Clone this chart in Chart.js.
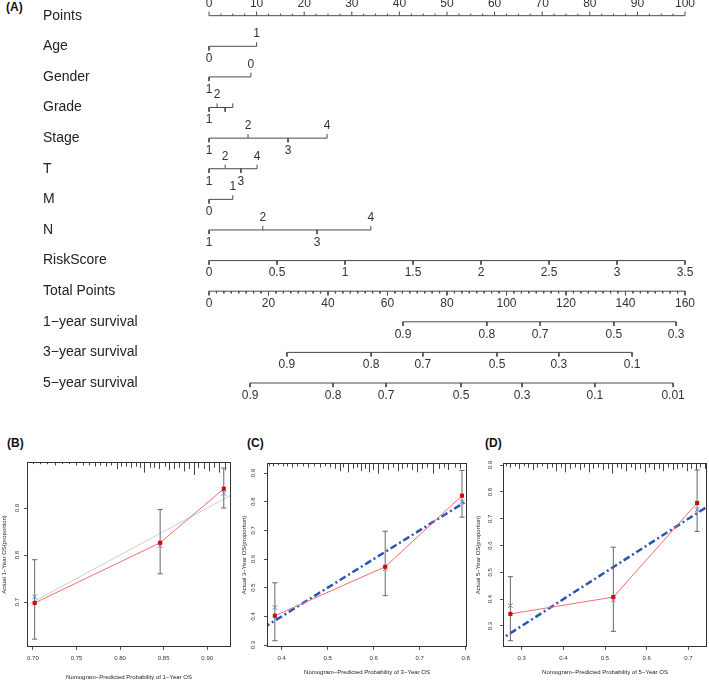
<!DOCTYPE html>
<html>
<head>
<meta charset="utf-8">
<script src="https://cdn.jsdelivr.net/npm/chart.js@4.4.0/dist/chart.umd.min.js"></script>
<style>
html,body{margin:0;padding:0;background:#fff;}
body{width:709px;height:682px;position:relative;overflow:hidden;font-family:"Liberation Sans",Arial,Helvetica,sans-serif;}
.wrap{position:absolute;}
.wrap canvas{display:block;}
.panel{position:absolute;font-weight:bold;font-size:12px;line-height:12px;color:#111;}
</style>
</head>
<body>
<div class="panel" style="left:6px;top:1px">(A)</div>
<div class="panel" style="left:7px;top:437px">(B)</div>
<div class="panel" style="left:247px;top:437px">(C)</div>
<div class="panel" style="left:485px;top:437px">(D)</div>

<div class="wrap" style="left:0;top:0"><canvas id="nomo" width="709" height="410"></canvas></div>
<div class="wrap" style="left:0;top:430px"><canvas id="calB" width="236" height="252"></canvas></div>
<div class="wrap" style="left:236px;top:430px"><canvas id="calC" width="236" height="252"></canvas></div>
<div class="wrap" style="left:472px;top:430px"><canvas id="calD" width="240" height="252"></canvas></div>

<script>
// ================= DATA =================
// --- Nomogram (A) ---
const rowNames = ['Points','Age','Gender','Grade','Stage','T','M','N','RiskScore','Total Points',
                  '1\u2212year survival','3\u2212year survival','5\u2212year survival'];
const pointsTicks = [0,10,20,30,40,50,60,70,80,90,100];
const ageLevels = ['0','1'];            const agePoints = [0, 10];
const genderLevels = ['1','0'];         const genderPoints = [0, 8.8];
const gradeLevels = ['1','2','',''];    const gradePoints = [0, 1.7, 3.4, 5.0];
const stageLevels = ['1','2','3','4'];  const stagePoints = [0, 8.2, 16.6, 24.8];
const tLevels = ['1','2','3','4'];      const tPoints = [0, 3.4, 6.7, 10.1];
const mLevels = ['0','1'];              const mPoints = [0, 5.0];
const nLevels = ['1','2','3','4'];      const nPoints = [0, 11.3, 22.7, 34.0];
const riskScoreTicks = [0,0.5,1,1.5,2,2.5,3,3.5];
const riskScoreLabels = ['0','0.5','1','1.5','2','2.5','3','3.5'];
const riskScoreMax = 3.5;               // = 100 points
const totalPointsTicks = [0,20,40,60,80,100,120,140,160];
const totalPointsMax = 160;             // = 100 points
const surv1Labels = ['0.9','0.8','0.7','0.5','0.3'];
const surv1Total  = [65.2, 93.4, 111.3, 136.1, 157.0];
const surv3Labels = ['0.9','0.8','0.7','0.5','0.3','0.1'];
const surv3Total  = [26.2, 54.5, 71.9, 96.8, 117.6, 142.2];
const surv5Labels = ['0.9','0.8','0.7','0.5','0.3','0.1','0.01'];
const surv5Total  = [13.8, 41.7, 59.5, 84.7, 105.2, 129.7, 156.0];

// --- Calibration (B) 1-year ---
const predB = [0.702, 0.846, 0.919];
const obsB  = [0.698, 0.826, 0.941];
const loB   = [0.621, 0.760, 0.900];
const hiB   = [0.790, 0.897, 0.985];
const corB  = [0.711, 0.820, 0.931];
const xTicksB = [0.70,0.75,0.80,0.85,0.90]; const xTickLabelsB = ['0.70','0.75','0.80','0.85','0.90'];
const yTicksB = [0.7,0.8,0.9];               const yTickLabelsB = ['0.7','0.8','0.9'];
const rugXB = [0.700,0.708,0.716,0.725,0.733,0.741,0.749,0.757,0.764,0.771,0.777,0.784,0.790,0.796,0.801,0.807,0.812,0.818,0.823,0.828,0.834,0.839,0.845,0.851,0.856,0.862,0.868,0.873,0.879,0.885,0.890,0.896,0.902,0.908,0.914,0.920];
const rugNB = [1,1,1,2,1,1,2,2,2,3,2,3,2,5,3,3,4,3,4,8,4,4,5,3,6,5,4,7,5,10,4,5,7,4,8,6];

// --- Calibration (C) 3-year ---
const predC = [0.385, 0.625, 0.792];
const obsC  = [0.402, 0.573, 0.821];
const loC   = [0.315, 0.472, 0.746];
const hiC   = [0.517, 0.697, 0.909];
const corC  = [0.431, 0.566, 0.800];
const xTicksC = [0.4,0.5,0.6,0.7,0.8];       const xTickLabelsC = ['0.4','0.5','0.6','0.7','0.8'];
const yTicksC = [0.3,0.4,0.5,0.6,0.7,0.8,0.9]; const yTickLabelsC = ['0.3','0.4','0.5','0.6','0.7','0.8','0.9'];
const rugXC = [0.372,0.381,0.391,0.402,0.412,0.423,0.434,0.446,0.458,0.471,0.483,0.494,0.505,0.515,0.526,0.533,0.543,0.554,0.564,0.572,0.581,0.590,0.599,0.609,0.620,0.630,0.641,0.652,0.662,0.673,0.684,0.694,0.705,0.716,0.730,0.741,0.752,0.762,0.776,0.787];
const rugNC = [2,2,1,2,2,3,2,2,3,2,3,2,3,4,6,3,7,4,3,6,4,7,5,8,4,5,3,6,4,3,5,7,4,3,8,4,3,5,3,4];

// --- Calibration (D) 5-year ---
const predD = [0.273, 0.520, 0.721];
const obsD  = [0.345, 0.408, 0.759];
const loD   = [0.245, 0.280, 0.653];
const hiD   = [0.484, 0.594, 0.882];
const corD  = [0.376, 0.397, 0.734];
const xTicksD = [0.3,0.4,0.5,0.6,0.7];       const xTickLabelsD = ['0.3','0.4','0.5','0.6','0.7'];
const yTicksD = [0.3,0.4,0.5,0.6,0.7,0.8,0.9]; const yTickLabelsD = ['0.3','0.4','0.5','0.6','0.7','0.8','0.9'];
const rugXD = [0.262,0.272,0.283,0.294,0.305,0.316,0.327,0.338,0.350,0.361,0.372,0.383,0.394,0.405,0.417,0.428,0.439,0.450,0.461,0.472,0.484,0.495,0.506,0.517,0.528,0.539,0.551,0.562,0.573,0.584,0.595,0.606,0.618,0.629,0.640,0.651,0.662,0.673,0.685,0.696,0.707,0.718,0.729,0.740];
const rugND = [2,3,2,4,2,3,5,3,2,4,3,6,3,7,4,3,5,3,7,4,3,5,4,8,3,4,6,3,5,4,7,3,5,4,6,3,5,4,3,6,4,5,3,4];

// ================= RENDERING =================
const FONT = '"Liberation Sans", Arial, Helvetica, sans-serif';
Chart.defaults.font.family = FONT;

const UP = 1, DN = -1;
const all = (arr, s) => arr.map(() => s);
function minorTicks(step, max, majorEvery) {
  const out = [];
  for (let v = step; v < max; v += step) { if (Math.abs(v / majorEvery - Math.round(v / majorEvery)) > 1e-6) out.push(v); }
  return out;
}
const rows = [
  {pts: pointsTicks, labels: pointsTicks.map(String), side: all(pointsTicks, UP), minor: minorTicks(2.5, 100, 10), minorSide: UP},
  {pts: agePoints, labels: ageLevels, side: [DN, UP]},
  {pts: genderPoints, labels: genderLevels, side: [DN, UP]},
  {pts: gradePoints, labels: gradeLevels, side: [DN, UP, DN, UP]},
  {pts: stagePoints, labels: stageLevels, side: [DN, UP, DN, UP]},
  {pts: tPoints, labels: tLevels, side: [DN, UP, DN, UP]},
  {pts: mPoints, labels: mLevels, side: [DN, UP]},
  {pts: nPoints, labels: nLevels, side: [DN, UP, DN, UP]},
  {pts: riskScoreTicks.map(v => v / riskScoreMax * 100), labels: riskScoreLabels, side: all(riskScoreTicks, DN)},
  {pts: totalPointsTicks.map(v => v / totalPointsMax * 100), labels: totalPointsTicks.map(String), side: all(totalPointsTicks, DN),
   minor: minorTicks(2.5, totalPointsMax, 20).map(v => v / totalPointsMax * 100), minorSide: DN},
  {pts: surv1Total.map(v => v / totalPointsMax * 100), labels: surv1Labels, side: all(surv1Labels, DN)},
  {pts: surv3Total.map(v => v / totalPointsMax * 100), labels: surv3Labels, side: all(surv3Labels, DN)},
  {pts: surv5Total.map(v => v / totalPointsMax * 100), labels: surv5Labels, side: all(surv5Labels, DN)}
];
const TICK = 0.135, MINOR = 0.07, LABEL_OFF = 12.5;
const GAP = {x: null, y: null};
function rowData(row, i) {
  const d = [{x: Math.min(...row.pts), y: i}, {x: Math.max(...row.pts), y: i}, GAP];
  row.pts.forEach((p, k) => d.push({x: p, y: i}, {x: p, y: i - row.side[k] * TICK}, GAP));
  (row.minor || []).forEach(p => d.push({x: p, y: i}, {x: p, y: i - row.minorSide * MINOR}, GAP));
  return d;
}
const nomoLabels = {
  id: 'nomoLabels',
  afterDatasetsDraw(chart) {
    const {ctx, scales: {x, y}} = chart;
    ctx.save();
    ctx.font = '12px ' + FONT; ctx.fillStyle = '#333';
    ctx.textAlign = 'center'; ctx.textBaseline = 'middle';
    rows.forEach((row, i) => row.pts.forEach((p, k) => {
      const t = row.labels[k]; if (!t) return;
      ctx.fillText(t, x.getPixelForValue(p), y.getPixelForValue(i) - row.side[k] * LABEL_OFF);
    }));
    ctx.restore();
  }
};
new Chart(document.getElementById('nomo'), {
  type: 'scatter',
  data: {datasets: rows.map((row, i) => ({type: 'line', data: rowData(row, i), borderColor: '#4a4a4a', borderWidth: 1,
    pointRadius: 0, spanGaps: false, tension: 0}))},
  options: {
    responsive: false, animation: false, events: [],
    layout: {padding: {left: 43, top: 0, right: 0, bottom: 0}},
    plugins: {legend: {display: false}, tooltip: {enabled: false}},
    scales: {
      x: {type: 'linear', display: false, min: -1.891, max: 105.04},
      y: {type: 'linear', reverse: true, min: -0.513, max: 12.882, position: 'left',
        afterBuildTicks: s => { s.ticks = rowNames.map((_, i) => ({value: i})); },
        afterFit: s => { s.width = 157; s.paddingTop = 0; s.paddingBottom = 0; },
        ticks: {autoSkip: false, crossAlign: 'far', padding: 0, font: {size: 14}, color: '#222',
          callback: v => rowNames[v]},
        grid: {display: false}, border: {display: false}}
    }
  },
  plugins: [nomoLabels]
});

// --- calibration panels ---
const calibDecor = {
  id: 'calibDecor',
  beforeDatasetsDraw(chart, args, opts) {
    const {ctx, chartArea: a, scales: {x}} = chart;
    ctx.save(); ctx.strokeStyle = '#444'; ctx.lineWidth = 1; ctx.beginPath();
    opts.rugX.forEach((v, k) => {
      const px = Math.round(x.getPixelForValue(v)) + 0.5;
      ctx.moveTo(px, a.top); ctx.lineTo(px, a.top + 1 + opts.rugN[k] * 1.2);
    });
    ctx.stroke(); ctx.restore();
  },
  afterDatasetsDraw(chart) {
    const {ctx, chartArea: a} = chart;
    ctx.save(); ctx.strokeStyle = '#333'; ctx.lineWidth = 1;
    ctx.strokeRect(a.left + 0.5, a.top + 0.5, a.right - a.left - 1, a.bottom - a.top - 1);
    ctx.restore();
  }
};
function calibChart(id, c, g) {
  const bars = [], caps = [];
  c.pred.forEach((p, k) => {
    bars.push({x: p, y: c.lo[k]}, {x: p, y: c.hi[k]}, GAP);
    caps.push({x: p, y: c.lo[k]}, {x: p, y: c.hi[k]});
  });
  new Chart(document.getElementById(id), {
    type: 'scatter',
    data: {datasets: [
      {type: 'line', data: c.pred.map((p, k) => ({x: p, y: c.obs[k]})), borderColor: '#f76b6b', borderWidth: 1,
       pointStyle: 'rect', pointRadius: 2.9, pointBackgroundColor: '#d10a0a', pointBorderColor: '#d10a0a', pointBorderWidth: 0, order: 0},
      {type: 'scatter', data: c.pred.map((p, k) => ({x: p, y: c.cor[k]})), pointStyle: 'crossRot', pointRadius: 3.2,
       borderColor: '#6b7fd0', backgroundColor: '#6b7fd0', borderWidth: 1, order: 1},
      {type: 'line', data: bars, borderColor: '#666', borderWidth: 1, pointRadius: 0, spanGaps: false, order: 2},
      {type: 'scatter', data: caps, pointStyle: 'line', pointRadius: 2.6, borderColor: '#666', borderWidth: 1, order: 2},
      Object.assign({type: 'line', data: [{x: 0, y: 0}, {x: 1, y: 1}], pointRadius: 0, order: 3}, c.ideal)
    ]},
    options: {
      responsive: false, animation: false, events: [],
      layout: {padding: {left: 0, top: g.top, right: g.right, bottom: 0}},
      plugins: {legend: {display: false}, tooltip: {enabled: false}, calibDecor: {rugX: c.rugX, rugN: c.rugN}},
      scales: {
        x: {type: 'linear', position: 'bottom', min: g.xmin, max: g.xmax,
          afterBuildTicks: s => { s.ticks = c.xTicks.map(v => ({value: v})); },
          afterFit: s => { s.height = g.xh; s.paddingLeft = 0; s.paddingRight = 0; },
          ticks: {autoSkip: false, minRotation: 0, maxRotation: 0, padding: 4.4, font: {size: 6}, color: '#333',
            callback: (v, i) => c.xTickLabels[i]},
          grid: {drawOnChartArea: false, drawTicks: true, tickLength: 3, color: '#555'},
          border: {display: false},
          title: {display: true, text: c.xTitle, font: {size: 6}, color: '#222', padding: {top: 0, bottom: g.xtp}}},
        y: {type: 'linear', position: 'left', min: g.ymin, max: g.ymax,
          afterBuildTicks: s => { s.ticks = c.yTicks.map(v => ({value: v})); },
          afterFit: s => { s.width = g.yw; s.paddingTop = 0; s.paddingBottom = 0; },
          ticks: {autoSkip: false, minRotation: 90, maxRotation: 90, crossAlign: 'center', padding: g.ylp,
            font: {size: 6}, color: '#333', callback: (v, i) => c.yTickLabels[i]},
          grid: {drawOnChartArea: false, drawTicks: true, tickLength: 3, color: '#555'},
          border: {display: false},
          title: {display: true, text: c.yTitle, font: {size: 6}, color: '#222', padding: {top: g.ytp, bottom: 0}}}
      }
    },
    plugins: [calibDecor]
  });
}
const idealGrey = {borderColor: '#cfcfcf', borderWidth: 1};
const idealBlue = {borderColor: '#2a55b5', borderWidth: 2.5, borderDash: [7, 3, 2, 3]};

calibChart('calB', {pred: predB, obs: obsB, lo: loB, hi: hiB, cor: corB, xTicks: xTicksB, xTickLabels: xTickLabelsB,
  yTicks: yTicksB, yTickLabels: yTickLabelsB, rugX: rugXB, rugN: rugNB, ideal: idealGrey,
  xTitle: 'Nomogram\u2212Predicted Probability of 1\u2212Year OS', yTitle: 'Actual 1\u2212Year OS(proportion)'},
  {top: 32, right: 3, xh: 35, yw: 27, xmin: 0.6932, xmax: 0.9273, ymin: 0.6043, ymax: 0.9979, xtp: 1.4, ytp: 0.4, ylp: 2.8});

calibChart('calC', {pred: predC, obs: obsC, lo: loC, hi: hiC, cor: corC, xTicks: xTicksC, xTickLabels: xTickLabelsC,
  yTicks: yTicksC, yTickLabels: yTickLabelsC, rugX: rugXC, rugN: rugNC, ideal: idealBlue,
  xTitle: 'Nomogram\u2212Predicted Probability of 3\u2212Year OS', yTitle: 'Actual 3\u2212Year OS(proportion)'},
  {top: 33, right: 2, xh: 35, yw: 31, xmin: 0.3679, xmax: 0.8029, ymin: 0.2931, ymax: 0.9349, xtp: 5.7, ytp: 4.4, ylp: 6.8});

calibChart('calD', {pred: predD, obs: obsD, lo: loD, hi: hiD, cor: corD, xTicks: xTicksD, xTickLabels: xTickLabelsD,
  yTicks: yTicksD, yTickLabels: yTickLabelsD, rugX: rugXD, rugN: rugND, ideal: idealBlue,
  xTitle: 'Nomogram\u2212Predicted Probability of 5\u2212Year OS', yTitle: 'Actual 5\u2212Year OS(proportion)'},
  {top: 33, right: 1, xh: 35, yw: 31, xmin: 0.2553, xmax: 0.7447, ymin: 0.2216, ymax: 0.9082, xtp: 5.7, ytp: 2.4, ylp: 5.8});
</script>
</body>
</html>
